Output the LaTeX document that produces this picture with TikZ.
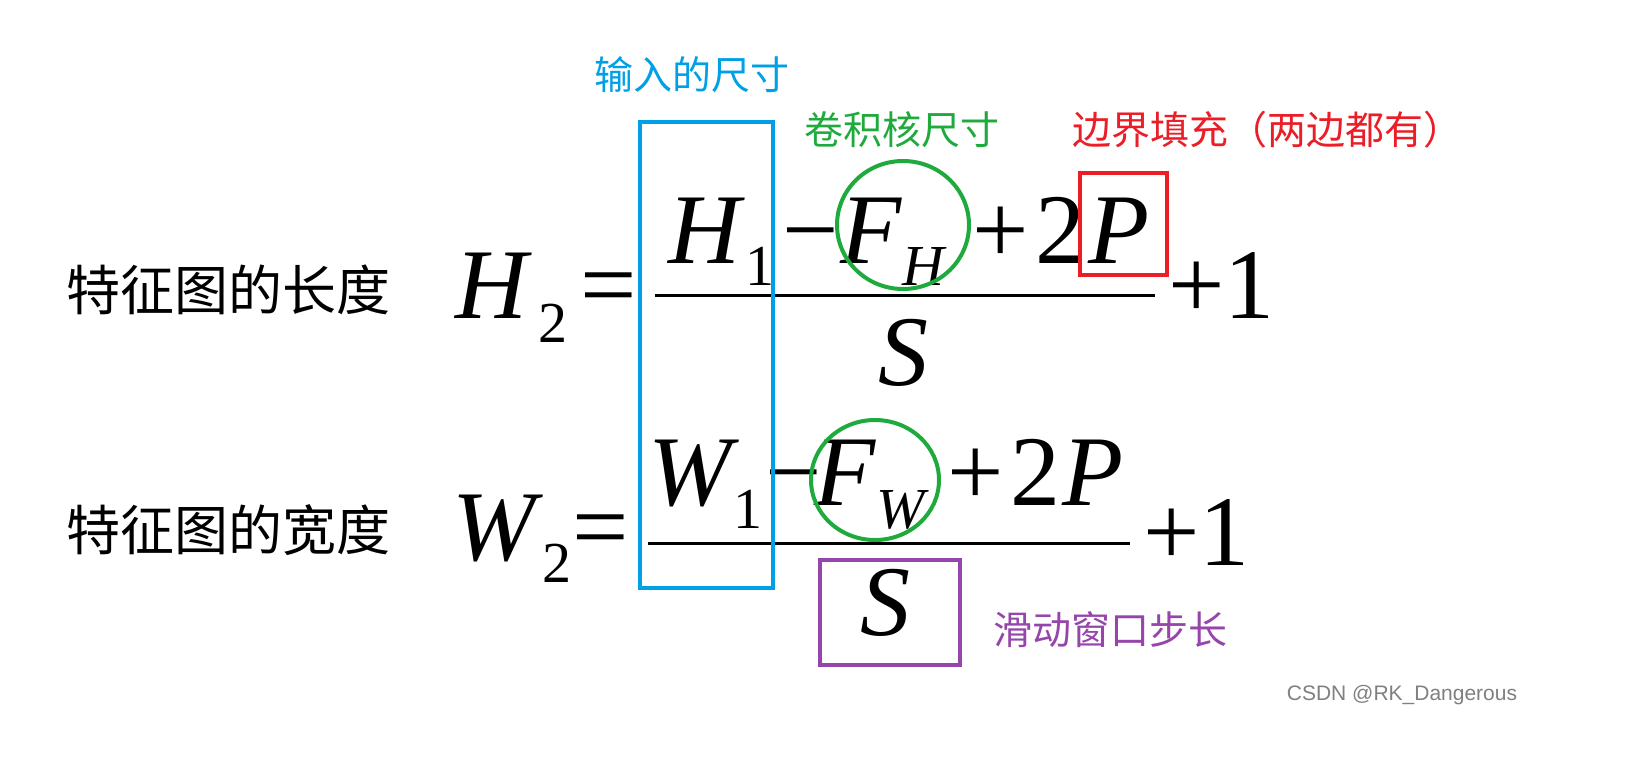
\documentclass[tikz,border=0pt]{standalone}
\usepackage{fontspec}
\setmainfont{Liberation Serif}
\newfontfamily\cjk{Noto Sans CJK SC}
\newfontfamily\sans{Liberation Sans}
\begin{document}
\begin{tikzpicture}[x=1pt,y=-1pt,
  m/.style={anchor=base west,inner sep=0pt,font=\fontsize{100}{100}\selectfont\itshape},
  r/.style={anchor=base west,inner sep=0pt,font=\fontsize{100}{100}\selectfont},
  sb/.style={anchor=base west,inner sep=0pt,font=\fontsize{58}{58}\selectfont\itshape},
  sr/.style={anchor=base west,inner sep=0pt,font=\fontsize{58}{58}\selectfont},
  lab/.style={inner sep=0pt,font=\fontsize{39}{39}\cjk}]
\useasboundingbox (0,0) rectangle (1636,758);
\fill[white] (0,0) rectangle (1636,758);
\definecolor{bl}{RGB}{0,160,230}\definecolor{gr}{RGB}{30,170,60}
\definecolor{rd}{RGB}{235,30,40}\definecolor{pu}{RGB}{150,70,170}
% row 1
\node[lab,font=\fontsize{54}{54}\cjk] (l1) at (228,290) {特征图的长度};
\node[m] (h2) at (455,318) {H};
\node[sr] (h2s) at (538,342) {2};
\node[r] (eq1) at (580,318) {=};
\draw[line width=3pt] (655,295) -- (1155,295);
\node[m] (h1) at (668,263) {H};
\node[sr] (h1s) at (745,285) {1};
\node[r] (mi1) at (782,263) {−};
\node[m] (f1) at (840,263) {F};
\node[sb] (f1s) at (902,285) {H};
\node[r] (pl1) at (972,263) {+};
\node[r] (two1) at (1035,263) {2};
\node[m] (p1) at (1088,263) {P};
\node[r] (one1) at (1168,318) {+1};
\node[m] (s1) at (878,385) {S};
% row 2
\node[lab,font=\fontsize{54}{54}\cjk] (l2) at (228,530) {特征图的宽度};
\node[m] (w2) at (452,560) {W};
\node[sr] (w2s) at (542,582) {2};
\node[r] (eq2) at (572,560) {=};
\draw[line width=3pt] (648,543) -- (1130,543);
\node[m] (w1) at (648,505) {W};
\node[sr] (w1s) at (733,528) {1};
\node[r] (mi2) at (765,505) {−};
\node[m] (f2) at (814,505) {F};
\node[sb] (f2s) at (876,528) {W};
\node[r] (pl2) at (947,505) {+};
\node[r] (two2) at (1010,505) {2};
\node[m] (p2) at (1062,505) {P};
\node[r] (one2) at (1143,565) {+1};
\node[m] (s2) at (860,635) {S};
% boxes
\draw[bl,line width=4pt] (640,122) rectangle (773,588);
\draw[gr,line width=4pt] (903,225) ellipse (66 and 64);
\draw[gr,line width=4pt] (875,480) ellipse (64 and 60);
\draw[rd,line width=4pt] (1080,173) rectangle (1167,275);
\draw[pu,line width=4pt] (820,560) rectangle (960,665);
% labels
\node[lab,bl] (t1) at (692,75) {输入的尺寸};
\node[lab,gr] (t2) at (902,130) {卷积核尺寸};
\node[lab,rd] (t3) at (1267,130) {边界填充（两边都有）};
\node[lab,pu] (t4) at (1110,630) {滑动窗口步长};
\node[inner sep=0pt,gray,font=\fontsize{21}{21}\sans] (wm) at (1402,695) {CSDN @RK\_Dangerous};
\end{tikzpicture}
\end{document}
